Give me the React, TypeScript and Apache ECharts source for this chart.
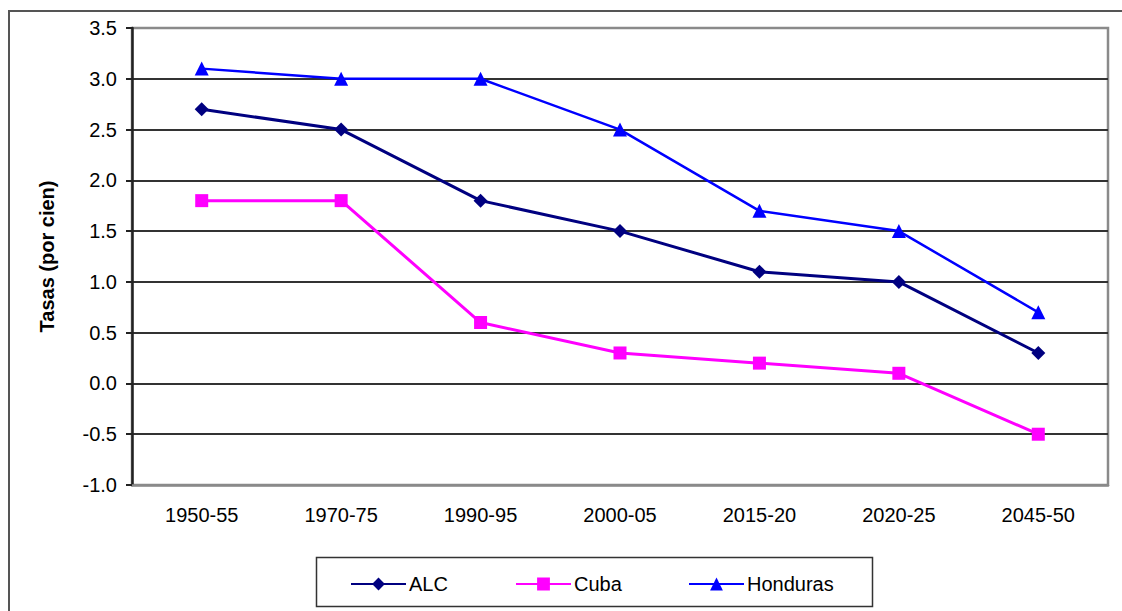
import React, { useEffect, useRef } from "react";
import * as echarts from "echarts";

const categories = ["1950-55", "1970-75", "1990-95", "2000-05", "2015-20", "2020-25", "2045-50"];
const alc = [2.7, 2.5, 1.8, 1.5, 1.1, 1.0, 0.3];
const cuba = [1.8, 1.8, 0.6, 0.3, 0.2, 0.1, -0.5];
const honduras = [3.1, 3.0, 3.0, 2.5, 1.7, 1.5, 0.7];
const seriesNames = ["ALC", "Cuba", "Honduras"];
const yTitle = "Tasas (por cien)";

const FONT = "'Liberation Sans', Arial, sans-serif";

export default function App() {
  const ref = useRef<HTMLDivElement>(null);
  useEffect(() => {
    if (!ref.current) return;
    const chart = echarts.init(ref.current, null, { renderer: "svg" });
    const legendCommon = {
      orient: "horizontal",
      itemWidth: 55,
      itemHeight: 16,
      itemGap: 0,
      padding: 0,
      top: 574,
      textStyle: { fontFamily: FONT, fontSize: 20, color: "#000", padding: [0, 0, 0, -2] },
    };
    chart.setOption({
      animation: false,
      backgroundColor: "#fff",
      textStyle: { fontFamily: FONT },
      grid: {
        left: 132,
        top: 28,
        right: 14,
        bottom: 126,
        show: true,
        borderColor: "#8a8a8a",
        borderWidth: 2.5,
        backgroundColor: "transparent",
      },
      legend: [
        { ...legendCommon, left: 350, data: [seriesNames[0]] },
        { ...legendCommon, left: 515, data: [seriesNames[1]] },
        { ...legendCommon, left: 688, data: [seriesNames[2]] },
      ],
      xAxis: {
        type: "category",
        data: categories,
        boundaryGap: true,
        axisLine: { show: true, onZero: false, lineStyle: { color: "#8a8a8a", width: 2.5 } },
        axisTick: { show: false },
        axisLabel: { fontFamily: FONT, fontSize: 20, color: "#000", margin: 20 },
      },
      yAxis: {
        type: "value",
        min: -1,
        max: 3.5,
        interval: 0.5,
        name: yTitle,
        nameLocation: "middle",
        nameGap: 75,
        nameTextStyle: { fontFamily: FONT, fontSize: 20, fontWeight: "bold", color: "#000" },
        axisLine: { show: true, lineStyle: { color: "#222", width: 2.5 } },
        axisTick: { show: true, length: 6, lineStyle: { color: "#222", width: 2 } },
        axisLabel: {
          fontFamily: FONT,
          fontSize: 20,
          color: "#000",
          margin: 15,
          formatter: (v: number) => v.toFixed(1),
        },
        splitLine: {
          show: true,
          lineStyle: {
            color: [
              "rgba(0,0,0,0)",
              "#333",
              "#333",
              "#333",
              "#333",
              "#333",
              "#333",
              "#333",
              "#333",
              "rgba(0,0,0,0)",
            ],
            width: 1.8,
          },
        },
      },
      series: [
        {
          name: seriesNames[0],
          type: "line",
          data: alc,
          symbol: "diamond",
          symbolSize: 14,
          lineStyle: { color: "#000080", width: 3 },
          itemStyle: { color: "#000080" },
        },
        {
          name: seriesNames[1],
          type: "line",
          data: cuba,
          symbol: "rect",
          symbolSize: 13,
          lineStyle: { color: "#ff00ff", width: 3 },
          itemStyle: { color: "#ff00ff" },
        },
        {
          name: seriesNames[2],
          type: "line",
          data: honduras,
          symbol: "triangle",
          symbolSize: 14,
          lineStyle: { color: "#0000ff", width: 2.5 },
          itemStyle: { color: "#0000ff" },
        },
      ],
      graphic: [
        {
          type: "rect",
          shape: { x: 9, y: 11, width: 1300, height: 800 },
          style: { fill: "none", stroke: "#555", lineWidth: 2 },
          silent: true,
        },
        {
          type: "rect",
          shape: { x: 316.5, y: 557.5, width: 556, height: 49 },
          style: { fill: "none", stroke: "#333", lineWidth: 1.5 },
          silent: true,
        },
      ],
    });
    return () => chart.dispose();
  }, []);
  return (
    <div
      ref={ref}
      style={{ position: "fixed", left: 0, top: 0, width: 1122, height: 611 }}
    />
  );
}
